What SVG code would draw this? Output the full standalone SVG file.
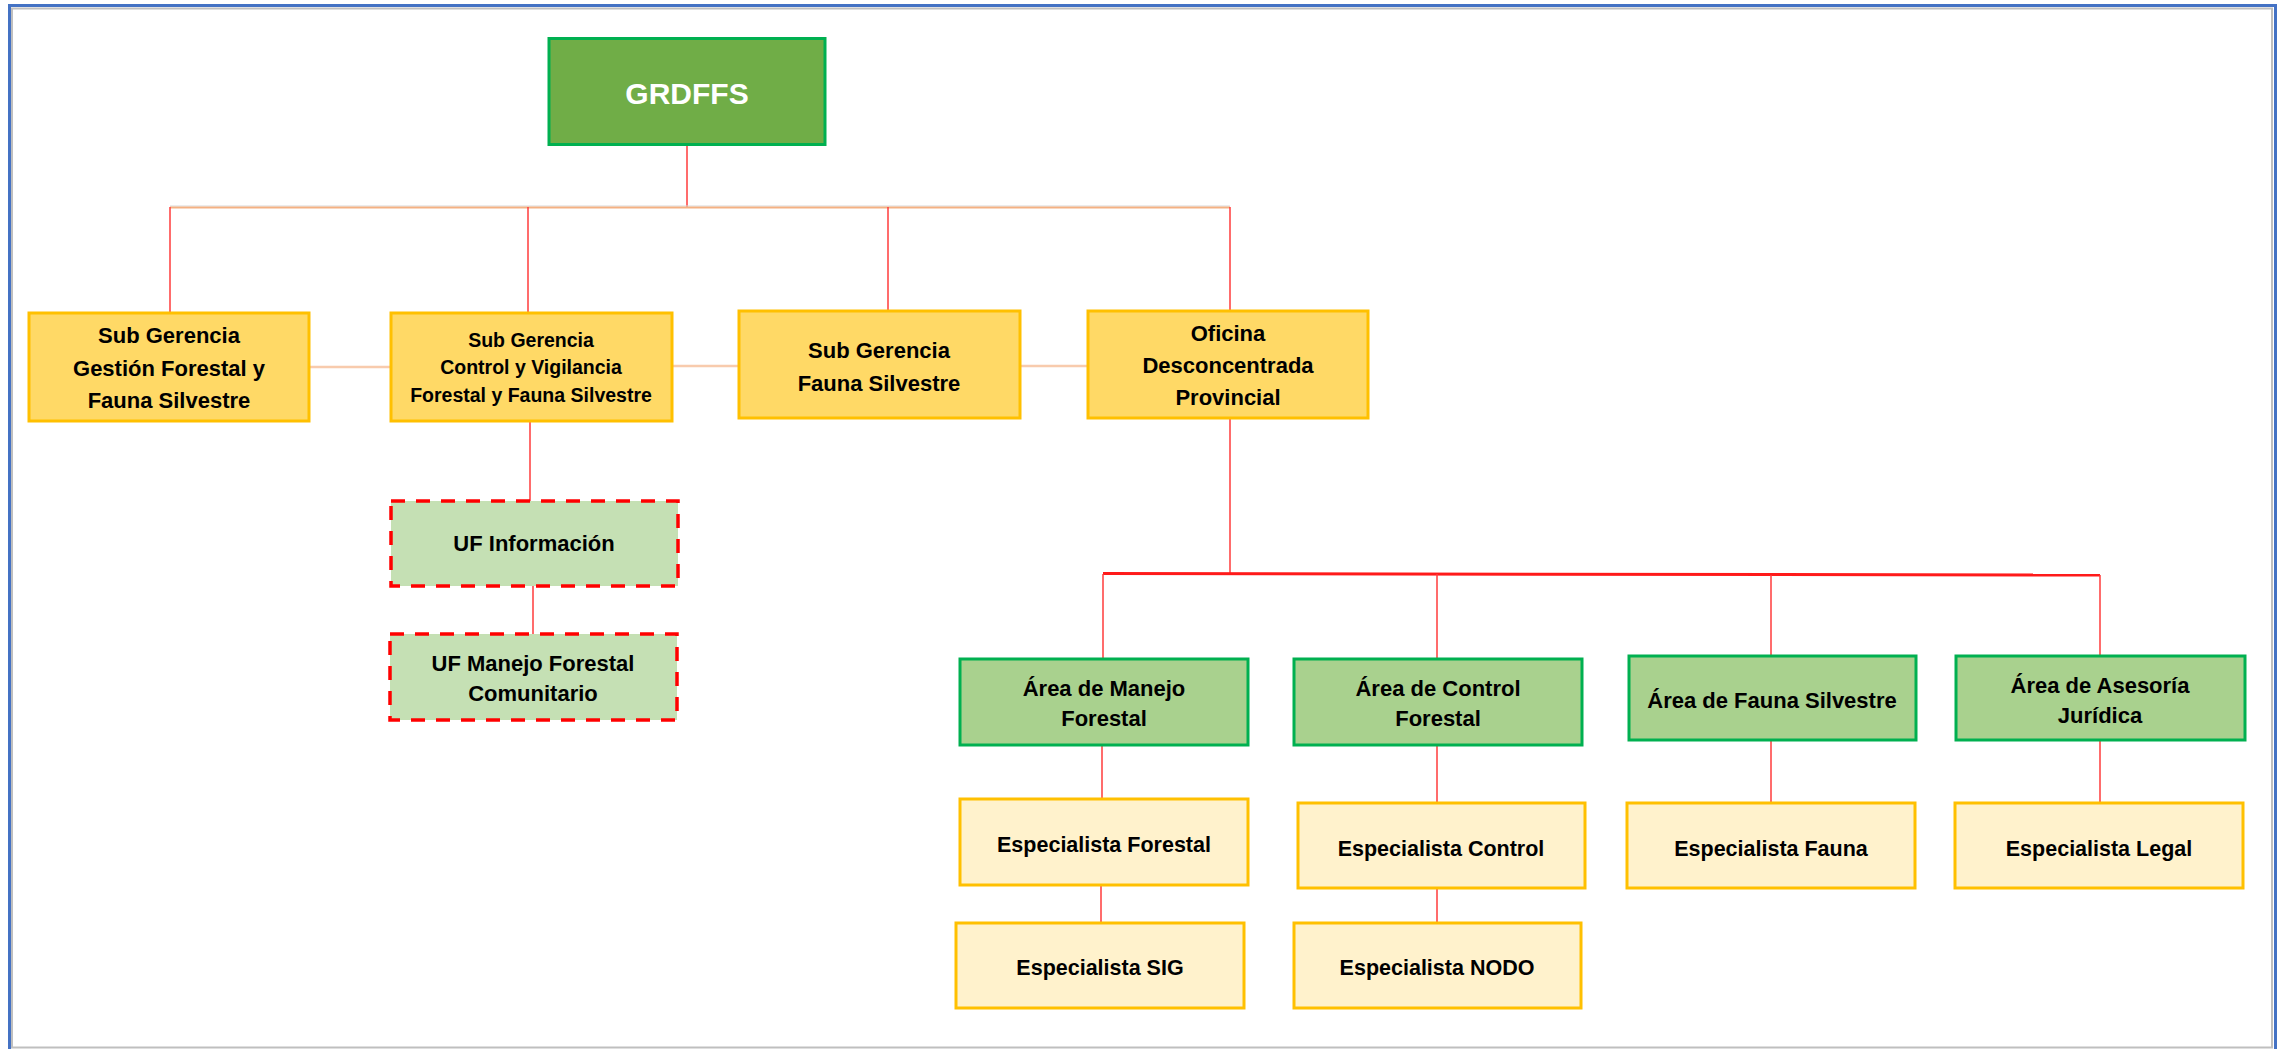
<svg xmlns="http://www.w3.org/2000/svg" width="2279" height="1049" viewBox="0 0 2279 1049">
<style>
  text { font-family: "Liberation Sans", Arial, sans-serif; font-weight: bold; text-anchor: middle; fill: #000; }
  .t22 { font-size: 22px; }
  .t19 { font-size: 19.5px; }
  .t21 { font-size: 21.5px; }
  .top { fill: #70AD47; stroke: #00B050; stroke-width: 3; }
  .sub { fill: #FFD966; stroke: #FFC000; stroke-width: 3; }
  .uf { fill: #C5E0B4; stroke: #FF0000; stroke-width: 3.5; stroke-dasharray: 14 11; }
  .area { fill: #A9D18E; stroke: #00B050; stroke-width: 3; }
  .esp { fill: #FFF2CC; stroke: #FFC000; stroke-width: 3; }
  .v { stroke: #FF3B3B; stroke-width: 1.5; fill: none; }
  .ho { stroke: #F4B183; stroke-width: 2; fill: none; }
  .hl { stroke: #F8CBAD; stroke-width: 2.5; fill: none; }
  .hr { stroke: #FF1A1A; stroke-width: 3; fill: none; }
</style>
<rect x="0" y="0" width="2279" height="1049" fill="#FFFFFF"/>
<g id="frame">
  <rect x="12" y="8.5" width="2260" height="1039" fill="none" stroke="#BFBFBF" stroke-width="2"/>
  <path d="M9.5 1049 V5.5 H2275.5 V1049" fill="none" stroke="#4472C4" stroke-width="3"/>
</g>
<g id="connectors">
  <line class="v" x1="687" y1="145" x2="687" y2="207"/>
  <line x1="170" y1="206" x2="1230" y2="206" stroke="#D9D9D9" stroke-width="1"/>
  <line class="ho" x1="170" y1="207.5" x2="1230" y2="207.5"/>
  <line class="v" x1="170" y1="207" x2="170" y2="313"/>
  <line class="v" x1="528" y1="207" x2="528" y2="313"/>
  <line class="v" x1="888" y1="207" x2="888" y2="311"/>
  <line class="v" x1="1230" y1="207" x2="1230" y2="311"/>
  <line class="hl" x1="309" y1="367" x2="391" y2="367"/>
  <line class="hl" x1="672" y1="366" x2="739" y2="366"/>
  <line class="hl" x1="1020" y1="366" x2="1088" y2="366"/>
  <line class="v" x1="530" y1="421" x2="530" y2="501"/>
  <line class="v" x1="533" y1="586" x2="533" y2="634"/>
  <line class="v" x1="1230" y1="418" x2="1230" y2="574"/>
  <line class="hr" x1="1103" y1="573.5" x2="2100" y2="575"/>
  <line class="v" x1="1103" y1="574" x2="1103" y2="659"/>
  <line class="v" x1="1437" y1="574" x2="1437" y2="659"/>
  <line class="v" x1="1771" y1="575" x2="1771" y2="656"/>
  <line class="v" x1="2100" y1="575" x2="2100" y2="656" stroke-width="2"/>
  <line class="v" x1="1102" y1="745" x2="1102" y2="799"/>
  <line class="v" x1="1101" y1="885" x2="1101" y2="923"/>
  <line class="v" x1="1437" y1="745" x2="1437" y2="803"/>
  <line class="v" x1="1437" y1="888" x2="1437" y2="923"/>
  <line class="v" x1="1771" y1="740" x2="1771" y2="803"/>
  <line class="v" x1="2100" y1="740" x2="2100" y2="803" stroke-width="2"/>
</g>
<g id="grdffs">
  <rect class="top" x="549" y="38.5" width="276" height="106"/>
  <text x="687" y="103.5" font-size="30" fill="#FFFFFF" style="fill:#FFFFFF">GRDFFS</text>
</g>
<g id="sg-gestion">
  <rect class="sub" x="29" y="313" width="280" height="108"/>
  <text class="t22" x="169" y="343">Sub Gerencia</text>
  <text class="t22" x="169" y="376">Gestión Forestal y</text>
  <text class="t22" x="169" y="408">Fauna Silvestre</text>
</g>
<g id="sg-control">
  <rect class="sub" x="391" y="313" width="281" height="108"/>
  <text class="t19" x="531" y="347">Sub Gerencia</text>
  <text class="t19" x="531" y="374">Control y Vigilancia</text>
  <text class="t19" x="531" y="402">Forestal y Fauna Silvestre</text>
</g>
<g id="sg-fauna">
  <rect class="sub" x="739" y="311" width="281" height="107"/>
  <text class="t22" x="879" y="358">Sub Gerencia</text>
  <text class="t22" x="879" y="391">Fauna Silvestre</text>
</g>
<g id="oficina">
  <rect class="sub" x="1088" y="311" width="280" height="107"/>
  <text class="t22" x="1228" y="341">Oficina</text>
  <text class="t22" x="1228" y="373">Desconcentrada</text>
  <text class="t22" x="1228" y="405">Provincial</text>
</g>
<g id="uf-informacion">
  <rect class="uf" x="391" y="501" width="287" height="85"/>
  <text class="t22" x="534" y="551">UF Información</text>
</g>
<g id="uf-manejo">
  <rect class="uf" x="390" y="634" width="287" height="86"/>
  <text class="t22" x="533" y="671">UF Manejo Forestal</text>
  <text class="t22" x="533" y="701">Comunitario</text>
</g>
<g id="area-manejo">
  <rect class="area" x="960" y="659" width="288" height="86"/>
  <text class="t22" x="1104" y="696">Área de Manejo</text>
  <text class="t22" x="1104" y="726">Forestal</text>
</g>
<g id="area-control">
  <rect class="area" x="1294" y="659" width="288" height="86"/>
  <text class="t22" x="1438" y="696">Área de Control</text>
  <text class="t22" x="1438" y="726">Forestal</text>
</g>
<g id="area-fauna">
  <rect class="area" x="1629" y="656" width="287" height="84"/>
  <text class="t22" x="1772" y="708">Área de Fauna Silvestre</text>
</g>
<g id="area-asesoria">
  <rect class="area" x="1956" y="656" width="289" height="84"/>
  <text class="t22" x="2100" y="693">Área de Asesoría</text>
  <text class="t22" x="2100" y="723">Jurídica</text>
</g>
<g id="esp-forestal">
  <rect class="esp" x="960" y="799" width="288" height="86"/>
  <text class="t21" x="1104" y="852">Especialista Forestal</text>
</g>
<g id="esp-control">
  <rect class="esp" x="1298" y="803" width="287" height="85"/>
  <text class="t21" x="1441" y="856">Especialista Control</text>
</g>
<g id="esp-fauna">
  <rect class="esp" x="1627" y="803" width="288" height="85"/>
  <text class="t21" x="1771" y="856">Especialista Fauna</text>
</g>
<g id="esp-legal">
  <rect class="esp" x="1955" y="803" width="288" height="85"/>
  <text class="t21" x="2099" y="856">Especialista Legal</text>
</g>
<g id="esp-sig">
  <rect class="esp" x="956" y="923" width="288" height="85"/>
  <text class="t21" x="1100" y="975">Especialista SIG</text>
</g>
<g id="esp-nodo">
  <rect class="esp" x="1294" y="923" width="287" height="85"/>
  <text class="t21" x="1437" y="975">Especialista NODO</text>
</g>
</svg>
